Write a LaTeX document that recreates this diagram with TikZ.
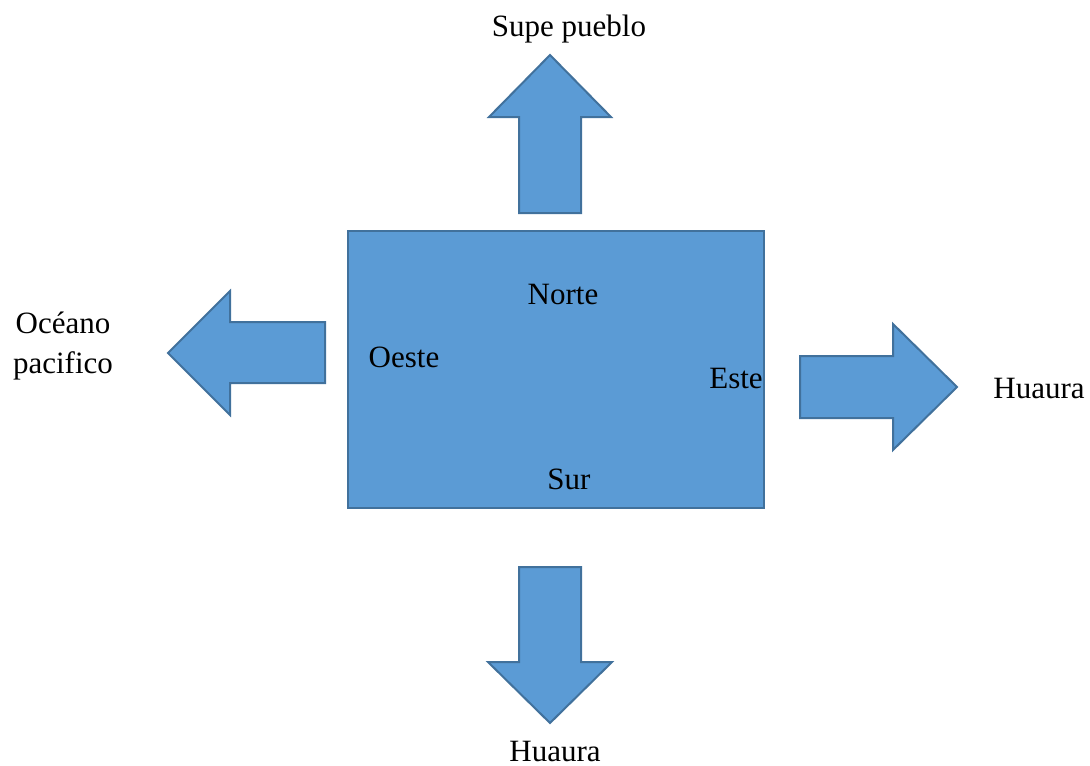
\documentclass[tikz,border=0pt]{standalone}
\usepackage{fontspec}
\setmainfont{Liberation Serif}
\definecolor{boxblue}{HTML}{5B9BD5}
\definecolor{edgeblue}{HTML}{41719C}
\tikzset{
  blk/.style={fill=boxblue, draw=edgeblue, line width=1pt, line join=miter},
  lbl/.style={font=\fontsize{15.5}{19}\selectfont, inner sep=0pt, align=center}
}
\begin{document}
\begin{tikzpicture}[x=0.5pt, y=-0.5pt]
    \useasboundingbox (0,0) rectangle (1090,765);
    % central block
    \draw[blk] (348,231) rectangle (764,508);
    \node[lbl] (norte) at (563,294) {Norte};
    \node[lbl] (oeste) at (404,357) {Oeste};
    \node[lbl] (este) at (736,378) {Este};
    \node[lbl] (sur) at (569,479) {Sur};
    % arrows
    \draw[blk] (519,213) -- (519,117) -- (489,117) -- (550,55) -- (611,117) -- (581,117) -- (581,213) -- cycle;
    \draw[blk] (325,322) -- (230,322) -- (230,291) -- (168,353) -- (230,415) -- (230,383) -- (325,383) -- cycle;
    \draw[blk] (800,356) -- (893,356) -- (893,324) -- (957,387) -- (893,450) -- (893,418) -- (800,418) -- cycle;
    \draw[blk] (519,567) -- (519,662) -- (488,662) -- (550,723) -- (612,662) -- (581,662) -- (581,567) -- cycle;
    % outer names
    \node[lbl] (supe) at (569,29) {Supe pueblo};
    \node[lbl, font=\fontsize{15.5}{20}\selectfont] (oceano) at (63,346) {Océano\\pacifico};
    \node[lbl] (huauraE) at (1039,388) {Huaura};
    \node[lbl] (huauraS) at (555,751) {Huaura};
\end{tikzpicture}
\end{document}
